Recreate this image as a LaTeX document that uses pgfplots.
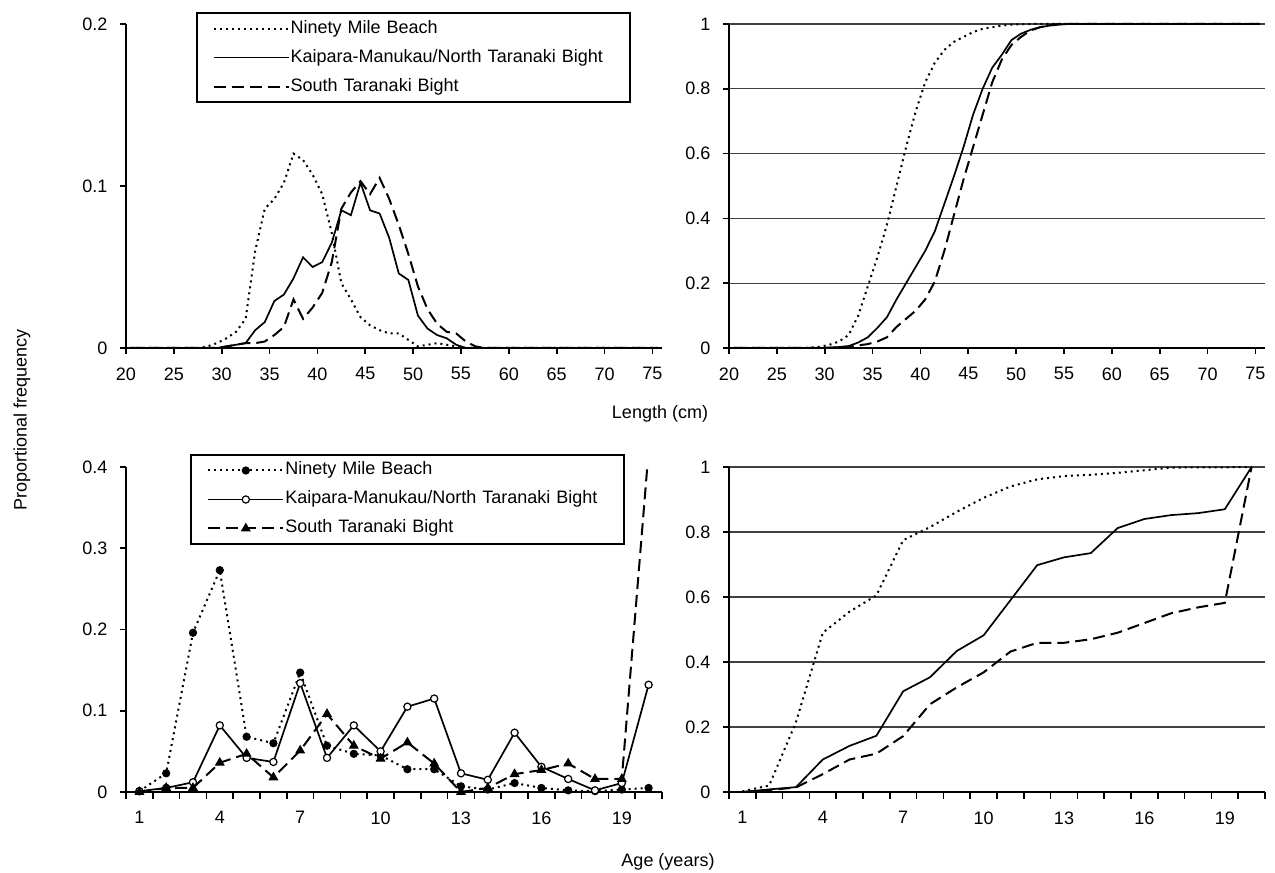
\documentclass[border=0pt]{standalone}
\usepackage{fontspec}
\setmainfont{Liberation Sans}
\usepackage{pgfplots}
\usepackage{pgfplotstable}
\pgfplotsset{compat=1.18}

% Length frequency (proportion per 1 cm class, plotted at class midpoints)
\pgfplotstableread{
x    nmb    kmn    stb
20.5 0      0      0
21.5 0      0      0
22.5 0      0      0
23.5 0      0      0
24.5 0      0      0
25.5 0      0      0
26.5 0      0      0
27.5 0      0      0
28.5 0.001  0      0
29.5 0.003  0      0
30.5 0.006  0.001  0.001
31.5 0.010  0.002  0.002
32.5 0.018  0.003  0.003
33.5 0.060  0.011  0.003
34.5 0.086  0.016  0.004
35.5 0.092  0.029  0.008
36.5 0.102  0.033  0.013
37.5 0.120  0.043  0.030
38.5 0.116  0.056  0.018
39.5 0.107  0.050  0.025
40.5 0.095  0.053  0.034
41.5 0.071  0.065  0.053
42.5 0.040  0.085  0.086
43.5 0.030  0.082  0.096
44.5 0.019  0.102  0.103
45.5 0.014  0.085  0.095
46.5 0.011  0.083  0.105
47.5 0.009  0.068  0.092
48.5 0.009  0.046  0.076
49.5 0.005  0.042  0.058
50.5 0.001  0.020  0.038
51.5 0.002  0.012  0.024
52.5 0.003  0.008  0.015
53.5 0.002  0.006  0.010
54.5 0.001  0.002  0.009
55.5 0      0      0.004
56.5 0      0      0.001
57.5 0      0      0
58.5 0      0      0
59.5 0      0      0
60.5 0      0      0
61.5 0      0      0
62.5 0      0      0
63.5 0      0      0
64.5 0      0      0
65.5 0      0      0
66.5 0      0      0
67.5 0      0      0
68.5 0      0      0
69.5 0      0      0
70.5 0      0      0
71.5 0      0      0
72.5 0      0      0
73.5 0      0      0
74.5 0      0      0
75.5 0      0      0
}\lenfreq

% Cumulative length frequency
\pgfplotstableread{
x    nmb    kmn    stb
20.5 0      0      0
21.5 0      0      0
22.5 0      0      0
23.5 0      0      0
24.5 0      0      0
25.5 0      0      0
26.5 0      0      0
27.5 0      0      0
28.5 0.001  0      0
29.5 0.004  0      0
30.5 0.010  0.001  0.001
31.5 0.020  0.003  0.002
32.5 0.040  0.006  0.004
33.5 0.100  0.017  0.008
34.5 0.190  0.033  0.012
35.5 0.280  0.062  0.020
36.5 0.380  0.095  0.033
37.5 0.500  0.150  0.065
38.5 0.620  0.200  0.090
39.5 0.730  0.250  0.115
40.5 0.820  0.300  0.150
41.5 0.880  0.360  0.205
42.5 0.920  0.445  0.300
43.5 0.945  0.530  0.410
44.5 0.960  0.620  0.520
45.5 0.975  0.720  0.620
46.5 0.985  0.800  0.720
47.5 0.990  0.865  0.820
48.5 0.995  0.905  0.890
49.5 0.998  0.950  0.935
50.5 0.999  0.970  0.960
51.5 1      0.982  0.980
52.5 1      0.990  0.990
53.5 1      0.995  0.997
54.5 1      0.998  1
55.5 1      1      1
56.5 1      1      1
57.5 1      1      1
58.5 1      1      1
59.5 1      1      1
60.5 1      1      1
61.5 1      1      1
62.5 1      1      1
63.5 1      1      1
64.5 1      1      1
65.5 1      1      1
66.5 1      1      1
67.5 1      1      1
68.5 1      1      1
69.5 1      1      1
70.5 1      1      1
71.5 1      1      1
72.5 1      1      1
73.5 1      1      1
74.5 1      1      1
75.5 1      1      1
}\lencum

% Age frequency
\pgfplotstableread{
age nmb   kmn   stb
1   0.001 0.001 0
2   0.023 0.005 0.005
3   0.196 0.012 0.005
4   0.273 0.082 0.036
5   0.068 0.042 0.047
6   0.060 0.037 0.018
7   0.147 0.134 0.051
8   0.057 0.042 0.096
9   0.047 0.082 0.057
10  0.045 0.050 0.041
11  0.028 0.105 0.061
12  0.028 0.115 0.035
13  0.007 0.023 0
14  0.003 0.015 0.005
15  0.011 0.073 0.022
16  0.005 0.031 0.027
17  0.002 0.016 0.035
18  0.001 0.002 0.016
19  0.003 0.011 0.016
20  0.005 0.132 0.420
}\agefreq

% Cumulative age frequency
\pgfplotstableread{
age nmb   kmn   stb
1   0.002 0.000 0.000
2   0.020 0.008 0.006
3   0.215 0.015 0.014
4   0.490 0.100 0.055
5   0.555 0.142 0.100
6   0.605 0.173 0.118
7   0.775 0.310 0.172
8   0.815 0.353 0.270
9   0.862 0.434 0.322
10  0.905 0.482 0.368
11  0.940 0.590 0.432
12  0.962 0.698 0.459
13  0.972 0.722 0.459
14  0.976 0.735 0.470
15  0.982 0.812 0.490
16  0.990 0.840 0.520
17  0.998 0.852 0.550
18  0.999 0.858 0.568
19  0.999 0.870 0.582
20  1.000 1.000 1.000
}\agecum

\pgfplotsset{
  panel/.style={
    scale only axis, anchor=south west,
    axis x line*=bottom, axis y line*=left,
    x axis line style={-}, y axis line style={-},
    axis line style={line width=2pt, black},
    tick align=outside, major tick length=6pt, minor tick length=7pt,
    tick style={line width=1.6pt, black},
    font=\fontsize{18}{21}\selectfont,
    /pgf/number format/assume math mode=true,
    xticklabel style={yshift=-10pt},
    yticklabel style={xshift=-9pt},
    clip=false,
  },
  lenpanel/.style={panel, width=536pt, height=324pt,
    xmin=20, xmax=76, xtick={20,25,...,75}},
  agepanel/.style={panel, width=536pt, height=325pt,
    xmin=0.5, xmax=20.5, xtick={1,4,...,19},
    minor xtick={0.5,1.5,...,20.5},
    major x tick style={draw=none}},
  cumgrid/.style={ymin=0, ymax=1, ytick={0,0.2,0.4,0.6,0.8,1},
    ymajorgrids, major grid style={black!75, line width=1.2pt}},
  legendbox/.style={
    legend cell align=left,
    legend style={anchor=north west, draw=black, line width=2pt,
      font=\fontsize{18}{21}\selectfont,
      inner xsep=16pt, inner ysep=1pt, row sep=0pt,
      /tikz/every even column/.append style={column sep=3pt},
      nodes={inner xsep=1pt, inner ysep=6pt, text height=13pt,
        text depth=4pt, text width=322pt, align=left}},
    legend image code/.code={\draw[mark repeat=2,mark phase=2,##1]
      plot coordinates {(0pt,0pt) (37.5pt,0pt) (75pt,0pt)};}
  },
  nmb/.style={black, line width=2pt, dash pattern=on 2pt off 4pt},
  kmn/.style={black, line width=1.7pt},
  stb/.style={black, line width=2pt, dash pattern=on 12pt off 6pt},
  nmbm/.style={nmb, mark=*, mark size=3.6pt, mark options={solid, fill=black, line width=1pt}},
  kmnm/.style={kmn, mark=*, mark size=3.6pt, mark options={solid, fill=white, draw=black, line width=1.2pt}},
  stbm/.style={stb, mark=triangle*, mark size=4.8pt, mark options={solid, fill=black, line width=1pt}},
}

\begin{document}
\begin{tikzpicture}[x=1pt,y=1pt]
\path[use as bounding box] (0,0) rectangle (1275,873);

% Length frequency
\begin{axis}[lenpanel, legendbox, at={(126pt,525pt)},
  ymin=0, ymax=0.2, ytick={0,0.1,0.2},
  legend style={at={(0.13,1.037)}}]
\addplot[nmb] table[x=x, y=nmb] {\lenfreq};
\addlegendentry{Ninety Mile Beach}
\addplot[kmn] table[x=x, y=kmn] {\lenfreq};
\addlegendentry{Kaipara-Manukau/North Taranaki Bight}
\addplot[stb] table[x=x, y=stb] {\lenfreq};
\addlegendentry{South Taranaki Bight}
\end{axis}

% Cumulative length frequency
\begin{axis}[lenpanel, cumgrid, at={(729pt,525pt)}]
\addplot[nmb] table[x=x, y=nmb] {\lencum};
\addplot[kmn] table[x=x, y=kmn] {\lencum};
\addplot[stb] table[x=x, y=stb] {\lencum};
\end{axis}

% Age frequency (the last South Taranaki value runs past the top of the axis)
\begin{axis}[agepanel, legendbox, at={(126pt,81pt)},
  ymin=0, ymax=0.4, ytick={0,0.1,0.2,0.3,0.4},
  clip=true, clip marker paths=false,
  legend style={at={(0.12,1.04)}}]
\addplot[nmbm] table[x=age, y=nmb] {\agefreq};
\addlegendentry{Ninety Mile Beach}
\addplot[kmnm] table[x=age, y=kmn] {\agefreq};
\addlegendentry{Kaipara-Manukau/North Taranaki Bight}
\addplot[stbm, mark indices={1,...,19},
  legend image post style={mark indices={2}}] table[x=age, y=stb] {\agefreq};
\addlegendentry{South Taranaki Bight}
\end{axis}

% Cumulative age frequency
\begin{axis}[agepanel, cumgrid, at={(729pt,81pt)}]
\addplot[nmb] table[x=age, y=nmb] {\agecum};
\addplot[kmn] table[x=age, y=kmn] {\agecum};
\addplot[stb] table[x=age, y=stb] {\agecum};
\end{axis}

\node[rotate=90, font=\fontsize{18}{21}\selectfont] at (22,453) {Proportional frequency};
\node[font=\fontsize{18}{21}\selectfont] at (660,459) {Length (cm)};
\node[font=\fontsize{18}{21}\selectfont] at (668,11) {Age (years)};
\end{tikzpicture}
\end{document}
